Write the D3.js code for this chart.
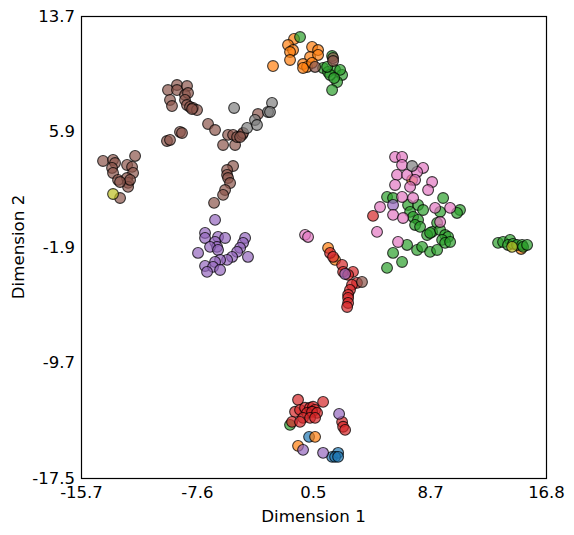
<!DOCTYPE html>
<html>
<head>
<meta charset="utf-8">
<script src="https://cdn.jsdelivr.net/npm/d3@7"></script>
<style>
  body { margin: 0; background: #fff; }
  svg { display: block; font-family: "DejaVu Sans", sans-serif; }
</style>
</head>
<body>
<div id="chart"></div>
<script>
'use strict';

/* Data: [dim1, dim2] per group */
const xTicks = [-15.7, -7.6, 0.5, 8.7, 16.8];
const yTicks = [-17.5, -9.7, -1.9, 5.9, 13.7];

const bluePts = [
    [0.24, -14.72], [1.85, -16.07], [2.27, -15.80], [2.06, -16.07], [2.27, -16.07]
];
const orangePts = [
    [-0.81, 12.15], [-1.23, 11.74], [-0.88, 11.40], [-1.09, 11.27], [-1.09, 10.73],
    [-2.28, 10.32], [0.45, 11.61], [0.87, 11.40], [0.31, 10.93], [0.87, 11.07],
    [-0.18, 10.46], [0.10, 10.26], [0.45, 10.53], [-0.18, 10.19],
    [7.44, 2.63], [15.06, -2.03], [1.57, -1.96], [2.06, -2.77],
    [0.66, -14.72], [-0.53, -15.33]
];
const greenPts = [
    [-0.39, 12.28], [1.85, 11.0], [1.22, 10.19], [1.57, 9.92], [2.06, 10.06],
    [2.55, 9.72], [2.20, 9.24], [1.85, 8.70], [1.71, 9.72], [1.50, 10.26],
    [2.41, 10.06], [1.99, 9.51],
    [5.69, 1.48], [6.11, 1.41], [7.16, 0.94], [7.86, 0.94], [8.21, 0.60],
    [7.30, 0.47], [7.51, 0.13], [7.86, -0.07], [7.65, -0.41], [8.00, -0.54],
    [9.61, 1.41], [9.40, 0.47], [10.79, 0.60], [10.58, 0.40], [9.19, -0.27],
    [8.84, -0.88], [8.49, -1.09], [8.70, -0.95], [9.40, -0.75], [9.75, -1.09],
    [9.96, -1.22], [9.54, -1.42], [9.75, -1.62], [10.10, -1.56], [7.09, -1.76],
    [6.74, -2.91], [7.79, -2.10], [8.14, -1.89], [8.70, -2.23], [9.19, -2.10],
    [6.11, -2.30], [5.69, -3.31],
    [13.45, -1.62], [13.80, -1.56], [14.29, -1.42], [14.15, -1.76], [14.50, -1.69],
    [14.78, -1.76], [15.13, -1.76], [15.20, -1.89], [15.48, -1.76],
    [-1.09, -13.91]
];
const redPts = [
    [4.71, 0.20],
    [1.71, -2.30], [1.92, -2.57], [2.55, -3.11], [2.62, -3.58], [3.31, -3.58],
    [2.97, -3.78], [3.59, -4.32], [3.24, -4.46], [3.10, -4.80], [2.97, -5.13],
    [2.97, -5.34], [2.97, -5.68], [2.90, -5.95],
    [-0.53, -12.22], [1.22, -12.36], [-0.74, -13.03], [-0.39, -12.90], [-0.04, -12.76],
    [0.31, -12.76], [0.52, -12.69], [0.66, -12.90], [0.10, -13.10], [0.45, -13.03],
    [0.80, -13.10], [-0.18, -13.44], [0.31, -13.44], [0.66, -13.44], [-0.95, -13.71],
    [-0.39, -13.71], [2.55, -13.71], [2.62, -14.04], [2.76, -14.25]
];
const purplePts = [
    [-6.33, -0.07], [-7.03, -0.95], [-7.03, -1.29], [-6.12, -1.22], [-5.63, -1.29],
    [-6.33, -1.56], [-6.19, -1.89], [-6.68, -1.89], [-6.12, -2.10], [-7.52, -2.30],
    [-4.23, -1.29], [-4.37, -1.62], [-4.58, -1.96], [-4.79, -2.23], [-4.03, -2.57],
    [-5.14, -2.57], [-5.49, -2.77], [-5.98, -2.77], [-6.33, -2.91], [-7.03, -3.18],
    [-6.47, -3.24], [-6.89, -3.58], [-5.98, -3.45],
    [6.11, 0.94], [2.76, -3.72],
    [2.34, -13.17], [-0.18, -15.60], [1.22, -15.80]
];
const brownPts = [
    [0.66, 10.26], [1.92, 10.86], [1.92, 10.66],
    [-9.62, 8.70], [-8.99, 9.04], [-8.29, 8.97], [-9.48, 8.03], [-9.34, 7.62],
    [-8.99, 8.70], [-8.43, 8.37], [-8.22, 8.50], [-8.43, 8.03], [-8.29, 7.69],
    [-8.08, 7.56], [-7.87, 7.49], [-7.59, 7.35], [-7.94, 7.42],
    [-6.82, 6.41], [-6.33, 6.0], [-9.69, 5.26], [-9.48, 5.33], [-8.78, 5.87], [-8.64, 5.80],
    [-5.77, 4.99], [-5.42, 5.67], [-5.07, 5.67], [-4.93, 4.99], [-4.79, 5.53],
    [-4.44, 5.67], [-4.37, 5.80], [-4.58, 5.53], [-3.33, 7.08],
    [-14.16, 3.91], [-13.46, 3.98], [-13.32, 3.77], [-11.92, 4.25], [-12.48, 3.64],
    [-12.13, 3.51], [-13.53, 3.44], [-13.46, 3.10], [-12.06, 3.10], [-13.11, 2.63],
    [-12.48, 2.76], [-12.41, 2.43], [-12.41, 2.16], [-12.27, 2.63], [-12.97, 2.49],
    [-12.97, 1.41],
    [-5.07, 3.57], [-5.49, 3.30], [-5.49, 2.97], [-5.42, 2.76], [-5.28, 2.42],
    [-5.63, 1.95], [-5.77, 1.62], [-6.40, 1.08],
    [3.94, -4.26]
];
const pinkPts = [
    [6.25, 4.18], [6.74, 4.18], [6.74, 3.64], [8.21, 3.44], [6.39, 2.97],
    [7.09, 2.97], [7.79, 3.17], [7.65, 2.63], [8.84, 2.49], [8.56, 1.95],
    [6.25, 2.29], [7.30, 2.16], [6.74, 1.48], [7.51, 1.41], [5.20, 0.80],
    [6.11, 0.27], [6.81, 0.06], [9.05, 0.74], [10.10, 0.74], [9.40, -0.21],
    [4.99, -0.88], [6.46, -1.56],
    [-0.04, -1.08], [0.17, -1.22]
];
const grayPts = [
    [-5.00, 7.49], [-4.09, 6.14], [-3.54, 6.68], [-3.40, 6.34], [-2.63, 7.22],
    [-2.35, 7.83], [-2.49, 7.22], [7.44, 3.57]
];
const olivePts = [
    [-13.46, 1.68], [14.43, -1.89]
];

const groups = [
    { name: 'blue', color: '#1f77b4', pts: bluePts },
    { name: 'orange', color: '#ff7f0e', pts: orangePts },
    { name: 'green', color: '#2ca02c', pts: greenPts },
    { name: 'red', color: '#d62728', pts: redPts },
    { name: 'purple', color: '#9467bd', pts: purplePts },
    { name: 'brown', color: '#8c564b', pts: brownPts },
    { name: 'pink', color: '#e377c2', pts: pinkPts },
    { name: 'gray', color: '#7f7f7f', pts: grayPts },
    { name: 'olive', color: '#bcbd22', pts: olivePts }
];

/* Set up */
var W = 574, H = 535,
    margin = { top: 16, right: 28, bottom: 57, left: 81 },
    width = W - margin.left - margin.right,
    height = H - margin.top - margin.bottom,
    fmt = function(d) { return d.toFixed(1); }; // plain hyphen, like the original

var x = d3.scaleLinear().domain([xTicks[0], xTicks[xTicks.length - 1]]).range([0, width]),
    y = d3.scaleLinear().domain([yTicks[0], yTicks[yTicks.length - 1]]).range([height, 0]);

var svg = d3.select('#chart').append('svg')
    .attr('width', W)
    .attr('height', H);

var g = svg.append('g')
    .attr('transform', 'translate(' + margin.left + ',' + margin.top + ')');

/* Points */
groups.forEach(function(grp) {
    g.append('g')
        .attr('class', 'grp-' + grp.name)
        .selectAll('circle')
        .data(grp.pts)
        .enter().append('circle')
        .attr('cx', function(d) { return x(d[0]); })
        .attr('cy', function(d) { return y(d[1]); })
        .attr('r', 5.4)
        .attr('fill', grp.color)
        .attr('fill-opacity', 0.7)
        .attr('stroke', '#000')
        .attr('stroke-opacity', 0.75)
        .attr('stroke-width', 1.1);
});

/* Frame */
g.append('rect')
    .attr('x', 0.5)
    .attr('y', 0.5)
    .attr('width', width)
    .attr('height', height)
    .attr('fill', 'none')
    .attr('stroke', '#000')
    .attr('stroke-width', 1.2);

/* Axes (no tick marks) */
var xAxis = g.append('g')
    .attr('transform', 'translate(0,' + height + ')')
    .call(d3.axisBottom(x).tickValues(xTicks).tickSize(0).tickPadding(8).tickFormat(fmt));
var yAxis = g.append('g')
    .call(d3.axisLeft(y).tickValues(yTicks).tickSize(0).tickPadding(6).tickFormat(fmt));

[xAxis, yAxis].forEach(function(a) {
    a.select('.domain').remove();
    a.selectAll('text')
        .attr('fill', '#000')
        .style('font-family', '"DejaVu Sans", sans-serif')
        .style('font-size', '16.5px');
});

/* Labels */
svg.append('text')
    .attr('x', margin.left + width / 2)
    .attr('y', 522)
    .attr('text-anchor', 'middle')
    .style('font-size', '16.7px')
    .text('Dimension 1');

svg.append('text')
    .attr('transform', 'translate(24,' + (margin.top + height / 2) + ') rotate(-90)')
    .attr('text-anchor', 'middle')
    .style('font-size', '16.7px')
    .text('Dimension 2');
</script>
</body>
</html>
